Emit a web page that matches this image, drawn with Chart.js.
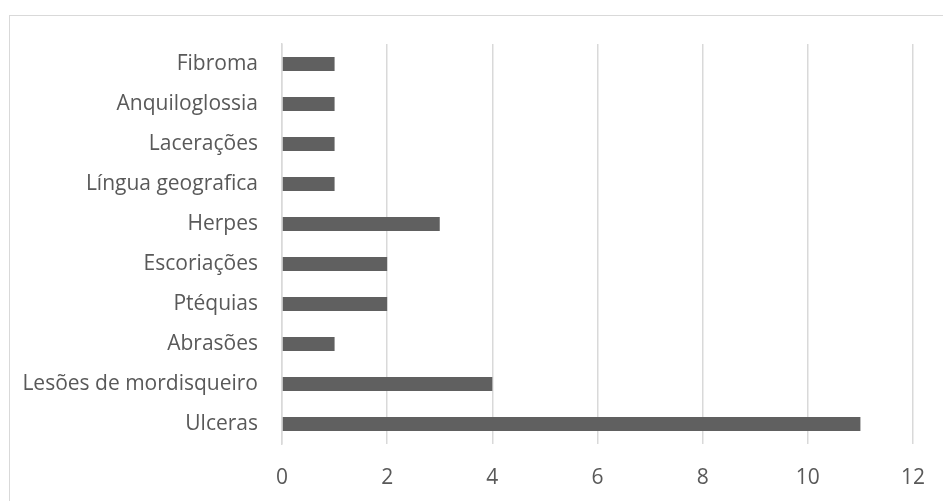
<!DOCTYPE html>
<html>
<head>
<meta charset="utf-8">
<script src="https://cdn.jsdelivr.net/npm/chart.js@4.4.1/dist/chart.umd.min.js"></script>
<style>
  html, body { margin: 0; padding: 0; background: #ffffff; }
  #wrap { position: relative; width: 943px; height: 501px; overflow: hidden; }
  #frame {
    position: absolute; left: 9px; top: 15px; right: -2px; bottom: -2px;
    border-top: 1px solid #d9d9d9; border-left: 1px solid #d9d9d9;
  }
  canvas { position: absolute; left: 0; top: 0; }
</style>
</head>
<body>
<div id="wrap">
  <div id="frame"></div>
  <canvas id="c" width="943" height="501"></canvas>
</div>
<script>
// Lesões observadas (número de casos)
const categories = [
  'Fibroma',
  'Anquiloglossia',
  'Lacerações',
  'Língua geografica',
  'Herpes',
  'Escoriações',
  'Ptéquias',
  'Abrasões',
  'Lesões de mordisqueiro',
  'Ulceras'
];
const casos = [1, 1, 1, 1, 3, 2, 2, 1, 4, 11];
const xTicks = [0, 2, 4, 6, 8, 10, 12];

const labelFont = { family: "'Open Sans', 'Liberation Sans', sans-serif", size: 21 };
const labelColor = '#595959';
const gridColor = '#d9d9d9';

new Chart(document.getElementById('c'), {
  type: 'bar',
  data: {
    labels: categories,
    datasets: [{
      data: casos,
      backgroundColor: '#606060',
      borderWidth: 0,
      barPercentage: 0.35,
      categoryPercentage: 1
    }]
  },
  options: {
    indexAxis: 'y',
    responsive: false,
    animation: false,
    layout: { padding: { top: 44, right: 30, left: 0, bottom: 0 } },
    plugins: { legend: { display: false }, tooltip: { enabled: false } },
    scales: {
      x: {
        min: xTicks[0],
        max: xTicks[xTicks.length - 1],
        afterBuildTicks: (scale) => { scale.ticks = xTicks.map(v => ({ value: v })); },
        grid: { color: gridColor, lineWidth: 1.5, drawTicks: false },
        border: { display: false },
        ticks: { color: labelColor, font: labelFont, padding: 21 },
        afterFit: (scale) => {
          scale.height = 57;
          scale.paddingLeft = 0;
          scale.paddingRight = 0;
        }
      },
      y: {
        grid: { display: false, drawTicks: false },
        border: { display: true, color: gridColor, width: 1.5 },
        ticks: { color: labelColor, font: labelFont, padding: 24, autoSkip: false },
        afterFit: (scale) => { scale.width = 282; }
      }
    }
  }
});
</script>
</body>
</html>
